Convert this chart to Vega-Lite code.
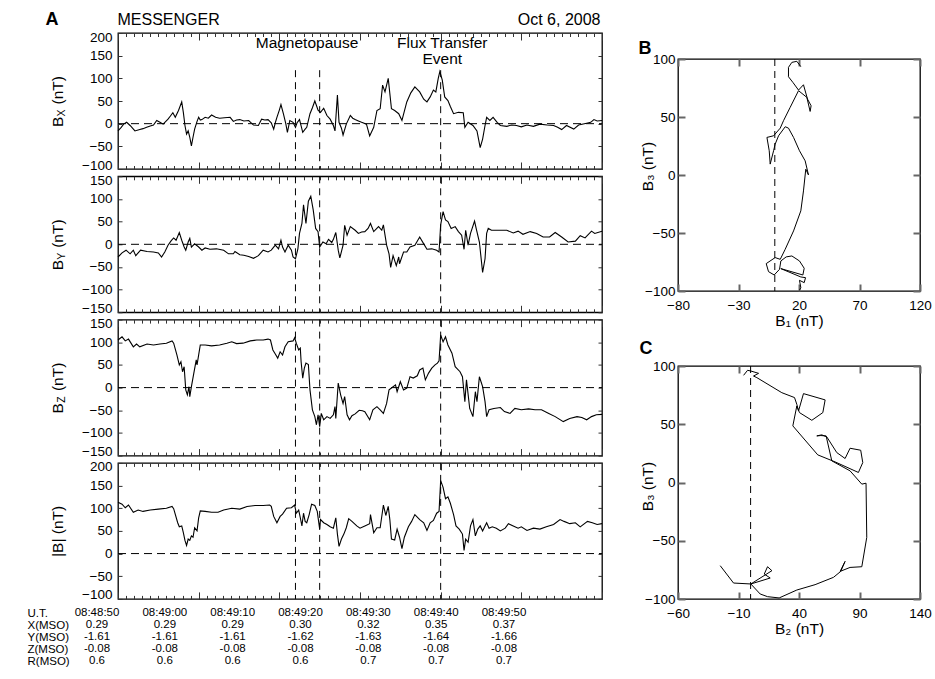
{
"$schema": "https://vega.github.io/schema/vega-lite/v6.json",
"background": "white",
"padding": {"left": 27, "top": 9, "right": 0, "bottom": 0},
"spacing": 32,
"config": {
  "font": "Liberation Sans",
  "view": {"stroke": "black", "strokeWidth": 1.3},
  "axis": {"grid": false, "domain": false, "labelFont": "Liberation Sans", "labelFontSize": 13.5, "labelColor": "black", "titleFont": "Liberation Sans", "titleFontSize": 15.5, "titleFontWeight": "normal", "titleColor": "black", "tickColor": "#333", "tickWidth": 1, "labelFlush": false, "labelOverlap": false},
  "title": {"font": "Liberation Sans", "color": "black"},
  "text": {"font": "Liberation Sans"}
},
"datasets": {
  "bx": [{"t":0,"v":-16},{"t":0.4,"v":-8},{"t":0.7,"v":-1},{"t":1.07,"v":3},{"t":1.5,"v":-4},{"t":2.1,"v":-16},{"t":2.7,"v":-13},{"t":3.1,"v":-11},{"t":3.55,"v":-8},{"t":4,"v":-5},{"t":4.4,"v":-3},{"t":4.8,"v":7},{"t":5.2,"v":3},{"t":5.6,"v":-1},{"t":6.2,"v":10},{"t":6.5,"v":17},{"t":6.8,"v":24},{"t":7.1,"v":14},{"t":7.5,"v":29},{"t":7.9,"v":48},{"t":8.1,"v":25},{"t":8.3,"v":-4},{"t":8.5,"v":-23},{"t":8.7,"v":-16},{"t":8.9,"v":-30},{"t":9.1,"v":-49},{"t":9.3,"v":-30},{"t":9.5,"v":-12},{"t":9.8,"v":5},{"t":10,"v":14},{"t":10.2,"v":8},{"t":10.4,"v":9},{"t":10.8,"v":14},{"t":11.2,"v":12},{"t":11.6,"v":19},{"t":12.1,"v":14},{"t":12.6,"v":12},{"t":13.2,"v":13},{"t":13.9,"v":14},{"t":14.3,"v":5},{"t":14.7,"v":8},{"t":15.1,"v":9},{"t":15.6,"v":6},{"t":16.2,"v":7},{"t":16.8,"v":-3},{"t":17.4,"v":-4},{"t":17.8,"v":10},{"t":18.2,"v":8},{"t":18.6,"v":9},{"t":19,"v":2},{"t":19.3,"v":-12},{"t":19.5,"v":2},{"t":19.7,"v":14},{"t":20,"v":30},{"t":20.2,"v":42},{"t":20.5,"v":22},{"t":20.8,"v":0},{"t":21,"v":-19},{"t":21.3,"v":7},{"t":21.7,"v":3},{"t":22,"v":-8},{"t":22.2,"v":2},{"t":22.5,"v":9},{"t":22.7,"v":-5},{"t":22.9,"v":-19},{"t":23.2,"v":-12},{"t":23.4,"v":-8},{"t":23.8,"v":22},{"t":24.1,"v":35},{"t":24.4,"v":50},{"t":24.6,"v":40},{"t":24.8,"v":30},{"t":25.1,"v":25},{"t":25.5,"v":34},{"t":25.9,"v":18},{"t":26.3,"v":10},{"t":26.7,"v":-4},{"t":26.9,"v":-16},{"t":27.2,"v":63},{"t":27.4,"v":3},{"t":27.7,"v":-10},{"t":27.9,"v":-25},{"t":28.3,"v":-1},{"t":28.8,"v":18},{"t":29.1,"v":12},{"t":29.4,"v":9},{"t":29.8,"v":6},{"t":30.2,"v":3},{"t":30.8,"v":-1},{"t":31.2,"v":-27},{"t":31.7,"v":-8},{"t":32.1,"v":29},{"t":32.5,"v":33},{"t":32.8,"v":85},{"t":33.1,"v":70},{"t":33.5,"v":100},{"t":33.9,"v":33},{"t":34.3,"v":29},{"t":34.8,"v":22},{"t":35.2,"v":7},{"t":35.8,"v":48},{"t":36.3,"v":68},{"t":36.8,"v":81},{"t":37.4,"v":70},{"t":37.9,"v":54},{"t":38.3,"v":48},{"t":38.7,"v":59},{"t":39.1,"v":74},{"t":39.4,"v":70},{"t":39.7,"v":100},{"t":39.9,"v":115},{"t":40.2,"v":96},{"t":40.5,"v":59},{"t":40.9,"v":51},{"t":41.2,"v":38},{"t":41.6,"v":22},{"t":42.2,"v":25},{"t":42.8,"v":24},{"t":43,"v":-8},{"t":43.4,"v":3},{"t":44,"v":-4},{"t":44.5,"v":-16},{"t":44.9,"v":-53},{"t":45.2,"v":-34},{"t":45.5,"v":-4},{"t":45.7,"v":14},{"t":46.1,"v":7},{"t":46.5,"v":14},{"t":47,"v":3},{"t":47.4,"v":-4},{"t":48.2,"v":-6},{"t":48.8,"v":-3},{"t":49.4,"v":-4},{"t":50,"v":-7},{"t":50.7,"v":-3},{"t":51.5,"v":-6},{"t":52.3,"v":-1},{"t":53.2,"v":-3},{"t":54,"v":-4},{"t":54.5,"v":-8},{"t":55,"v":-13},{"t":55.6,"v":-4},{"t":56.5,"v":-12},{"t":57.1,"v":-3},{"t":58.1,"v":1},{"t":58.6,"v":3},{"t":59,"v":9},{"t":59.4,"v":6},{"t":60,"v":7}],
  "by": [{"t":0,"v":-28},{"t":0.5,"v":-19},{"t":1,"v":-13},{"t":1.5,"v":-21},{"t":1.9,"v":-13},{"t":2.2,"v":-25},{"t":2.8,"v":-13},{"t":3.6,"v":-16},{"t":4.4,"v":-17},{"t":5,"v":-19},{"t":5.4,"v":-28},{"t":5.8,"v":-17},{"t":6.2,"v":-2},{"t":6.6,"v":8},{"t":6.9,"v":14},{"t":7.2,"v":9},{"t":7.6,"v":26},{"t":7.9,"v":9},{"t":8.2,"v":-6},{"t":8.4,"v":-13},{"t":8.7,"v":5},{"t":8.9,"v":13},{"t":9.1,"v":-6},{"t":9.5,"v":1},{"t":10,"v":-6},{"t":10.4,"v":-13},{"t":10.8,"v":-8},{"t":11.4,"v":-11},{"t":12.2,"v":-10},{"t":13.1,"v":-13},{"t":13.7,"v":-21},{"t":14.3,"v":-21},{"t":14.5,"v":-16},{"t":15.1,"v":-23},{"t":15.6,"v":-24},{"t":16.2,"v":-27},{"t":16.8,"v":-31},{"t":17.4,"v":-25},{"t":18,"v":-13},{"t":18.6,"v":-17},{"t":19,"v":-13},{"t":19.5,"v":-2},{"t":19.9,"v":-10},{"t":20.2,"v":9},{"t":20.4,"v":-6},{"t":20.7,"v":-17},{"t":21.1,"v":-2},{"t":21.5,"v":-13},{"t":21.7,"v":-28},{"t":22,"v":-32},{"t":22.3,"v":-10},{"t":22.5,"v":24},{"t":22.8,"v":46},{"t":23,"v":87},{"t":23.3,"v":46},{"t":23.6,"v":95},{"t":23.9,"v":106},{"t":24.2,"v":76},{"t":24.5,"v":35},{"t":24.8,"v":28},{"t":25,"v":-6},{"t":25.4,"v":5},{"t":25.8,"v":1},{"t":26.1,"v":11},{"t":26.5,"v":4},{"t":26.7,"v":11},{"t":27,"v":26},{"t":27.3,"v":-13},{"t":27.5,"v":-30},{"t":27.9,"v":-2},{"t":28.1,"v":42},{"t":28.4,"v":20},{"t":28.8,"v":39},{"t":29.4,"v":31},{"t":29.8,"v":24},{"t":30.2,"v":27},{"t":30.6,"v":28},{"t":31,"v":35},{"t":31.3,"v":46},{"t":31.7,"v":28},{"t":32.3,"v":39},{"t":32.7,"v":31},{"t":32.9,"v":43},{"t":33.3,"v":-2},{"t":33.6,"v":-21},{"t":33.8,"v":-51},{"t":34.1,"v":-25},{"t":34.5,"v":-47},{"t":34.8,"v":-28},{"t":34.9,"v":-43},{"t":35.4,"v":-17},{"t":35.8,"v":-17},{"t":36.2,"v":-6},{"t":36.8,"v":-2},{"t":37.4,"v":16},{"t":37.9,"v":1},{"t":38.3,"v":-11},{"t":38.9,"v":-10},{"t":39.5,"v":-13},{"t":39.8,"v":-17},{"t":40,"v":43},{"t":40.3,"v":72},{"t":40.6,"v":54},{"t":40.9,"v":50},{"t":41.3,"v":35},{"t":41.8,"v":39},{"t":42.2,"v":28},{"t":42.6,"v":20},{"t":42.9,"v":-11},{"t":43.1,"v":31},{"t":43.4,"v":-2},{"t":43.7,"v":24},{"t":44.2,"v":51},{"t":44.4,"v":35},{"t":44.8,"v":5},{"t":45.2,"v":-62},{"t":45.5,"v":-32},{"t":45.7,"v":24},{"t":45.9,"v":35},{"t":46.3,"v":31},{"t":47,"v":31},{"t":47.6,"v":31},{"t":48.2,"v":31},{"t":49,"v":25},{"t":49.6,"v":29},{"t":50.2,"v":22},{"t":51.1,"v":28},{"t":51.9,"v":24},{"t":52.7,"v":16},{"t":53.5,"v":16},{"t":54.2,"v":26},{"t":55,"v":16},{"t":55.8,"v":5},{"t":56.7,"v":7},{"t":57.3,"v":19},{"t":57.9,"v":14},{"t":58.7,"v":29},{"t":59.1,"v":24},{"t":60,"v":29}],
  "bz": [{"t":0,"v":105},{"t":0.5,"v":112},{"t":0.9,"v":103},{"t":1.3,"v":107},{"t":1.9,"v":90},{"t":2.3,"v":96},{"t":2.7,"v":90},{"t":3.6,"v":96},{"t":4.4,"v":94},{"t":5.2,"v":96},{"t":6,"v":98},{"t":6.7,"v":103},{"t":6.9,"v":98},{"t":7.3,"v":72},{"t":7.6,"v":50},{"t":7.8,"v":57},{"t":8,"v":35},{"t":8.2,"v":46},{"t":8.4,"v":-5},{"t":8.6,"v":-16},{"t":8.8,"v":2},{"t":8.9,"v":-20},{"t":9.1,"v":2},{"t":9.4,"v":32},{"t":9.7,"v":61},{"t":9.8,"v":50},{"t":10,"v":72},{"t":10.2,"v":94},{"t":10.8,"v":94},{"t":11.6,"v":92},{"t":12.6,"v":94},{"t":13.5,"v":98},{"t":14.1,"v":101},{"t":14.7,"v":97},{"t":15.5,"v":98},{"t":16.4,"v":103},{"t":17.2,"v":105},{"t":18,"v":105},{"t":18.6,"v":107},{"t":18.9,"v":105},{"t":19.2,"v":83},{"t":19.5,"v":74},{"t":19.8,"v":65},{"t":20.1,"v":79},{"t":20.4,"v":72},{"t":20.7,"v":90},{"t":21.1,"v":101},{"t":21.7,"v":103},{"t":21.9,"v":110},{"t":22.1,"v":98},{"t":22.4,"v":83},{"t":22.6,"v":87},{"t":22.7,"v":57},{"t":22.9,"v":21},{"t":23.1,"v":43},{"t":23.3,"v":54},{"t":23.6,"v":51},{"t":23.8,"v":-5},{"t":24.1,"v":-49},{"t":24.4,"v":-64},{"t":24.6,"v":-82},{"t":24.8,"v":-60},{"t":25,"v":-86},{"t":25.2,"v":-57},{"t":25.5,"v":-71},{"t":25.9,"v":-64},{"t":26.3,"v":-68},{"t":26.7,"v":-60},{"t":26.9,"v":-42},{"t":27,"v":-68},{"t":27.3,"v":10},{"t":27.6,"v":-16},{"t":27.9,"v":-35},{"t":28.1,"v":-20},{"t":28.4,"v":-60},{"t":28.7,"v":-71},{"t":29,"v":-62},{"t":29.4,"v":-58},{"t":29.9,"v":-50},{"t":30.3,"v":-51},{"t":30.6,"v":-53},{"t":31.2,"v":-71},{"t":31.6,"v":-49},{"t":32.1,"v":-42},{"t":32.5,"v":-49},{"t":32.9,"v":-57},{"t":33.3,"v":-35},{"t":33.6,"v":-5},{"t":33.9,"v":-1},{"t":34.4,"v":6},{"t":34.6,"v":-9},{"t":35,"v":13},{"t":35.4,"v":-5},{"t":35.8,"v":-1},{"t":36.2,"v":24},{"t":36.6,"v":21},{"t":37.1,"v":26},{"t":37.4,"v":39},{"t":37.8,"v":43},{"t":38.1,"v":17},{"t":38.5,"v":32},{"t":38.9,"v":43},{"t":39.3,"v":50},{"t":39.6,"v":54},{"t":39.8,"v":59},{"t":40,"v":116},{"t":40.3,"v":101},{"t":40.6,"v":112},{"t":40.9,"v":94},{"t":41.4,"v":76},{"t":41.8,"v":46},{"t":42.4,"v":35},{"t":42.7,"v":24},{"t":43,"v":-31},{"t":43.2,"v":17},{"t":43.6,"v":-46},{"t":44,"v":-64},{"t":44.3,"v":-9},{"t":44.5,"v":-31},{"t":44.8,"v":24},{"t":45.2,"v":2},{"t":45.5,"v":-31},{"t":45.7,"v":-64},{"t":46,"v":-49},{"t":46.6,"v":-46},{"t":47.4,"v":-44},{"t":47.9,"v":-53},{"t":48.6,"v":-57},{"t":49.2,"v":-46},{"t":50,"v":-49},{"t":50.9,"v":-47},{"t":51.7,"v":-49},{"t":52.5,"v":-49},{"t":53.4,"v":-57},{"t":54.2,"v":-64},{"t":55.2,"v":-75},{"t":56,"v":-68},{"t":56.9,"v":-64},{"t":57.5,"v":-66},{"t":58.1,"v":-71},{"t":58.7,"v":-64},{"t":59.3,"v":-60},{"t":60,"v":-59}],
  "bt": [{"t":0,"v":113},{"t":0.5,"v":109},{"t":0.9,"v":101},{"t":1.3,"v":107},{"t":1.9,"v":91},{"t":2.5,"v":96},{"t":3.1,"v":93},{"t":4,"v":96},{"t":5,"v":98},{"t":6,"v":100},{"t":6.7,"v":104},{"t":6.9,"v":99},{"t":7.4,"v":68},{"t":7.6,"v":59},{"t":7.9,"v":61},{"t":8.1,"v":46},{"t":8.3,"v":29},{"t":8.5,"v":18},{"t":8.7,"v":32},{"t":8.9,"v":29},{"t":9.1,"v":39},{"t":9.3,"v":36},{"t":9.5,"v":57},{"t":9.8,"v":50},{"t":10,"v":79},{"t":10.2,"v":94},{"t":10.8,"v":93},{"t":11.6,"v":91},{"t":12.4,"v":91},{"t":13.1,"v":96},{"t":14.1,"v":100},{"t":15.1,"v":98},{"t":16,"v":104},{"t":17,"v":106},{"t":18,"v":106},{"t":18.8,"v":107},{"t":19,"v":104},{"t":19.3,"v":82},{"t":19.7,"v":68},{"t":20.1,"v":82},{"t":20.4,"v":87},{"t":20.9,"v":100},{"t":21.5,"v":101},{"t":21.9,"v":107},{"t":22.1,"v":89},{"t":22.4,"v":96},{"t":22.6,"v":79},{"t":22.8,"v":61},{"t":23,"v":89},{"t":23.2,"v":71},{"t":23.4,"v":68},{"t":23.7,"v":86},{"t":24,"v":109},{"t":24.4,"v":106},{"t":24.7,"v":93},{"t":25,"v":54},{"t":25.1,"v":75},{"t":25.5,"v":68},{"t":25.9,"v":64},{"t":26.3,"v":59},{"t":26.7,"v":56},{"t":27,"v":79},{"t":27.2,"v":43},{"t":27.4,"v":16},{"t":27.7,"v":32},{"t":28,"v":43},{"t":28.3,"v":57},{"t":28.6,"v":77},{"t":29,"v":71},{"t":29.6,"v":61},{"t":30,"v":56},{"t":30.6,"v":61},{"t":31.2,"v":66},{"t":31.3,"v":86},{"t":31.7,"v":46},{"t":32.1,"v":57},{"t":32.5,"v":57},{"t":32.9,"v":107},{"t":33.2,"v":84},{"t":33.5,"v":104},{"t":33.7,"v":75},{"t":33.9,"v":32},{"t":34.3,"v":30},{"t":34.6,"v":54},{"t":34.9,"v":36},{"t":35.2,"v":11},{"t":35.5,"v":36},{"t":36,"v":59},{"t":36.4,"v":71},{"t":36.8,"v":86},{"t":37.4,"v":75},{"t":37.9,"v":68},{"t":38.3,"v":51},{"t":38.7,"v":68},{"t":39.1,"v":73},{"t":39.5,"v":89},{"t":39.8,"v":93},{"t":40,"v":161},{"t":40.3,"v":146},{"t":40.6,"v":121},{"t":40.9,"v":125},{"t":41.2,"v":111},{"t":41.6,"v":86},{"t":41.9,"v":61},{"t":42.3,"v":54},{"t":42.7,"v":43},{"t":42.9,"v":7},{"t":43.1,"v":32},{"t":43.4,"v":25},{"t":43.7,"v":61},{"t":44,"v":75},{"t":44.3,"v":39},{"t":44.6,"v":54},{"t":44.9,"v":61},{"t":45.2,"v":50},{"t":45.5,"v":61},{"t":45.7,"v":68},{"t":46,"v":56},{"t":46.4,"v":59},{"t":46.9,"v":56},{"t":47.4,"v":50},{"t":48,"v":56},{"t":48.4,"v":66},{"t":49,"v":61},{"t":49.6,"v":56},{"t":50,"v":59},{"t":50.7,"v":51},{"t":51.5,"v":56},{"t":52.3,"v":54},{"t":53.1,"v":59},{"t":54,"v":64},{"t":54.8,"v":75},{"t":55.3,"v":71},{"t":56,"v":66},{"t":56.7,"v":68},{"t":57.3,"v":59},{"t":58.2,"v":71},{"t":58.8,"v":68},{"t":59.4,"v":64},{"t":60,"v":66}],
  "mp": [{"t":22},{"t":25}],
  "fte": [{"t":40}],
  "annot": [{"t":23.43,"label":"Magnetopause"},{"t":40.2,"label":"Flux Transfer\nEvent"}],
  "table": [
    {"ut":"08:48:50","row":"U.T.","val":"08:48:50"},{"ut":"08:49:00","row":"U.T.","val":"08:49:00"},{"ut":"08:49:10","row":"U.T.","val":"08:49:10"},{"ut":"08:49:20","row":"U.T.","val":"08:49:20"},{"ut":"08:49:30","row":"U.T.","val":"08:49:30"},{"ut":"08:49:40","row":"U.T.","val":"08:49:40"},{"ut":"08:49:50","row":"U.T.","val":"08:49:50"},
    {"ut":"08:48:50","row":"X(MSO)","val":"0.29"},{"ut":"08:49:00","row":"X(MSO)","val":"0.29"},{"ut":"08:49:10","row":"X(MSO)","val":"0.29"},{"ut":"08:49:20","row":"X(MSO)","val":"0.30"},{"ut":"08:49:30","row":"X(MSO)","val":"0.32"},{"ut":"08:49:40","row":"X(MSO)","val":"0.35"},{"ut":"08:49:50","row":"X(MSO)","val":"0.37"},
    {"ut":"08:48:50","row":"Y(MSO)","val":"-1.61"},{"ut":"08:49:00","row":"Y(MSO)","val":"-1.61"},{"ut":"08:49:10","row":"Y(MSO)","val":"-1.61"},{"ut":"08:49:20","row":"Y(MSO)","val":"-1.62"},{"ut":"08:49:30","row":"Y(MSO)","val":"-1.63"},{"ut":"08:49:40","row":"Y(MSO)","val":"-1.64"},{"ut":"08:49:50","row":"Y(MSO)","val":"-1.66"},
    {"ut":"08:48:50","row":"Z(MSO)","val":"-0.08"},{"ut":"08:49:00","row":"Z(MSO)","val":"-0.08"},{"ut":"08:49:10","row":"Z(MSO)","val":"-0.08"},{"ut":"08:49:20","row":"Z(MSO)","val":"-0.08"},{"ut":"08:49:30","row":"Z(MSO)","val":"-0.08"},{"ut":"08:49:40","row":"Z(MSO)","val":"-0.08"},{"ut":"08:49:50","row":"Z(MSO)","val":"-0.08"},
    {"ut":"08:48:50","row":"R(MSO)","val":"0.6"},{"ut":"08:49:00","row":"R(MSO)","val":"0.6"},{"ut":"08:49:10","row":"R(MSO)","val":"0.6"},{"ut":"08:49:20","row":"R(MSO)","val":"0.6"},{"ut":"08:49:30","row":"R(MSO)","val":"0.7"},{"ut":"08:49:40","row":"R(MSO)","val":"0.7"},{"ut":"08:49:50","row":"R(MSO)","val":"0.7"}
  ],
  "hodoB": [{"i":1,"b1":21.5,"b3":93.4},{"i":2,"b1":18.2,"b3":98},{"i":3,"b1":14.1,"b3":97.1},{"i":4,"b1":11.3,"b3":92.8},{"i":5,"b1":11.3,"b3":84.7},{"i":6,"b1":14.9,"b3":79.9},{"i":7,"b1":19.6,"b3":73.2},{"i":8,"b1":23.7,"b3":77.8},{"i":9,"b1":27,"b3":65.5},{"i":10,"b1":30,"b3":59.7},{"i":11,"b1":29.2,"b3":54.8},{"i":12,"b1":26.5,"b3":66.9},{"i":13,"b1":19.6,"b3":72.7},{"i":14,"b1":12.7,"b3":58.3},{"i":15,"b1":7.2,"b3":46.8},{"i":16,"b1":4.5,"b3":40.4},{"i":17,"b1":-1,"b3":33.8},{"i":18,"b1":-6.5,"b3":32.4},{"i":19,"b1":-4.6,"b3":20.9},{"i":20,"b1":-3.8,"b3":9.4},{"i":21,"b1":-1,"b3":20.9},{"i":22,"b1":0.3,"b3":26.6},{"i":23,"b1":3.1,"b3":33.8},{"i":24,"b1":8.6,"b3":41.6},{"i":25,"b1":11.3,"b3":40.4},{"i":26,"b1":15.5,"b3":32.4},{"i":27,"b1":20.4,"b3":20.9},{"i":28,"b1":25.1,"b3":12.2},{"i":29,"b1":27.8,"b3":0.1},{"i":30,"b1":25.6,"b3":5},{"i":31,"b1":23.7,"b3":-13.7},{"i":32,"b1":21.5,"b3":-30.9},{"i":33,"b1":15.5,"b3":-48.2},{"i":34,"b1":8.6,"b3":-64},{"i":35,"b1":4.5,"b3":-72.7},{"i":36,"b1":0.3,"b3":-71.2},{"i":37,"b1":-7.1,"b3":-76.4},{"i":38,"b1":-5.2,"b3":-83.3},{"i":39,"b1":-0.5,"b3":-86.2},{"i":40,"b1":3.9,"b3":-81.3},{"i":41,"b1":5,"b3":-74.1},{"i":42,"b1":9.4,"b3":-70.6},{"i":43,"b1":14.1,"b3":-69.8},{"i":44,"b1":20.4,"b3":-74.1},{"i":45,"b1":24.3,"b3":-80.4},{"i":46,"b1":23.2,"b3":-86.2},{"i":47,"b1":5,"b3":-80.7},{"i":48,"b1":21.5,"b3":-87.9},{"i":49,"b1":25.4,"b3":-88.5},{"i":50,"b1":24.3,"b3":-92.8},{"i":51,"b1":20.4,"b3":-90.8},{"i":52,"b1":21.5,"b3":-97.1},{"i":53,"b1":20.4,"b3":-99.4}],
  "hodoC": [{"i":1,"b2":-5.8,"b3":92},{"i":2,"b2":-2.5,"b3":96.3},{"i":3,"b2":0.2,"b3":95.7},{"i":4,"b2":6.6,"b3":93.7},{"i":5,"b2":2.4,"b3":91.4},{"i":6,"b2":5.2,"b3":90},{"i":7,"b2":25.8,"b3":77.1},{"i":8,"b2":36.3,"b3":72.9},{"i":9,"b2":38.2,"b3":67.1},{"i":10,"b2":39.6,"b3":61.4},{"i":11,"b2":43.7,"b3":76.3},{"i":12,"b2":61.6,"b3":70.9},{"i":13,"b2":59.7,"b3":60},{"i":14,"b2":50.6,"b3":53.4},{"i":15,"b2":40.4,"b3":60},{"i":16,"b2":38.2,"b3":65.7},{"i":17,"b2":34.9,"b3":48.6},{"i":18,"b2":55.5,"b3":23.7},{"i":19,"b2":69.8,"b3":17.7},{"i":20,"b2":89.1,"b3":8.6},{"i":21,"b2":92.7,"b3":17.1},{"i":22,"b2":91,"b3":27.7},{"i":23,"b2":82.2,"b3":29.4},{"i":24,"b2":78.1,"b3":20.6},{"i":25,"b2":71.2,"b3":25.7},{"i":26,"b2":63,"b3":39.1},{"i":27,"b2":58.8,"b3":40.9},{"i":28,"b2":54.7,"b3":40},{"i":29,"b2":58,"b3":40.3},{"i":30,"b2":62.4,"b3":40},{"i":31,"b2":67.1,"b3":18.6},{"i":32,"b2":82.2,"b3":10},{"i":33,"b2":91.9,"b3":-1.4},{"i":34,"b2":95.4,"b3":-0.6},{"i":35,"b2":96,"b3":-47.1},{"i":36,"b2":91.9,"b3":-72.3},{"i":37,"b2":82.2,"b3":-72.9},{"i":38,"b2":74,"b3":-76.3},{"i":39,"b2":78.1,"b3":-67.7},{"i":40,"b2":74.5,"b3":-76.3},{"i":41,"b2":68.5,"b3":-81.4},{"i":42,"b2":53.3,"b3":-87.7},{"i":43,"b2":38.2,"b3":-92.3},{"i":44,"b2":23.6,"b3":-99.1},{"i":45,"b2":14,"b3":-98},{"i":46,"b2":7.9,"b3":-95.7},{"i":47,"b2":0.2,"b3":-87.1},{"i":48,"b2":16.2,"b3":-82},{"i":49,"b2":11.3,"b3":-78.6},{"i":50,"b2":14,"b3":-72.3},{"i":51,"b2":17.6,"b3":-75.7},{"i":52,"b2":0.2,"b3":-87.1},{"i":53,"b2":-14.1,"b3":-86.3},{"i":54,"b2":-25.1,"b3":-71.4}]
},
"hconcat": [
 {
  "bounds": "flush",
  "spacing": 7.3,
  "vconcat": [
   {
    "width": 484, "height": 136,
    "resolve": {"axis": {"x": "independent", "y": "independent"}},
    "layer": [
     {"data": {"name": "bx"}, "mark": {"type": "line", "color": "black", "strokeWidth": 1.1},
      "encoding": {
       "x": {"field": "t", "type": "quantitative", "scale": {"domain": [0,60], "nice": false, "zero": false}, "axis": {"orient": "bottom", "tickCount": 60, "tickSize": -3.5, "labels": false, "title": null}},
       "y": {"field": "v", "type": "quantitative", "scale": {"domain": [-100,200], "nice": false, "zero": false}, "axis": {"orient": "left", "values": [-100,-50,0,50,100,150,200], "tickSize": -4, "labelPadding": 10, "labelFlush": true, "labelFlushOffset": 3, "title": "B\u2002 (nT)", "titleX": -56, "titleY": 68, "titleAngle": 270, "titleAlign": "center", "titleBaseline": "alphabetic"}}
      }},
     {"data": {"values": [{"v": 0}]}, "mark": {"type": "rule", "color": "black", "strokeDash": [8,5], "strokeWidth": 1},
      "encoding": {
       "x": {"datum": 0, "type": "quantitative", "scale": {"domain": [0,60], "nice": false, "zero": false}, "axis": {"orient": "bottom", "tickCount": 6, "tickSize": -7, "labels": false, "title": null}},
       "x2": {"datum": 60},
       "y": {"field": "v", "type": "quantitative", "scale": {"domain": [-100,200], "nice": false, "zero": false}, "axis": {"orient": "left", "ticks": false, "labels": false, "title": "X", "titleFontSize": 10.5, "titleX": -53.5, "titleY": 79.5, "titleAngle": 270, "titleAlign": "center", "titleBaseline": "alphabetic"}}
      }},
     {"data": {"name": "mp"}, "mark": {"type": "rule", "color": "black", "strokeDash": [7,5], "strokeWidth": 1},
      "encoding": {
       "x": {"field": "t", "type": "quantitative", "scale": {"domain": [0,60], "nice": false, "zero": false}, "axis": {"orient": "top", "tickCount": 60, "tickSize": -3.5, "labels": false, "title": "Oct 6, 2008", "titleX": 482, "titleY": -9, "titleAngle": 0, "titleAlign": "right", "titleBaseline": "alphabetic", "titleFontSize": 16}},
       "y": {"datum": 118, "type": "quantitative", "scale": {"domain": [-100,200], "nice": false, "zero": false}, "axis": {"orient": "right", "values": [-100,-50,0,50,100,150,200], "tickSize": -4, "labels": false, "title": "A", "titleX": -557, "titleY": -9, "titleAngle": 0, "titleAlign": "left", "titleBaseline": "alphabetic", "titleFontSize": 18, "titleFontWeight": "bold"}},
       "y2": {"datum": -100}
      }},
     {"data": {"name": "fte"}, "mark": {"type": "rule", "color": "black", "strokeDash": [7,5], "strokeWidth": 1},
      "encoding": {
       "x": {"field": "t", "type": "quantitative", "scale": {"domain": [0,60], "nice": false, "zero": false}, "axis": {"orient": "top", "tickCount": 6, "tickSize": -7, "labels": false, "title": "MESSENGER", "titleX": -1, "titleY": -9, "titleAngle": 0, "titleAlign": "left", "titleBaseline": "alphabetic", "titleFontSize": 16}},
       "y": {"datum": 118, "type": "quantitative", "scale": {"domain": [-100,200], "nice": false, "zero": false}, "axis": null},
       "y2": {"datum": -100}
      }},
     {"data": {"name": "annot"}, "mark": {"type": "text", "color": "black", "fontSize": 15.5, "baseline": "alphabetic", "align": "center", "lineBreak": "\n", "lineHeight": 15.5},
      "encoding": {
       "x": {"field": "t", "type": "quantitative", "scale": {"domain": [0,60], "nice": false, "zero": false}, "axis": null},
       "y": {"datum": 166, "type": "quantitative", "scale": {"domain": [-100,200], "nice": false, "zero": false}, "axis": null},
       "text": {"field": "label"}
      }}
    ]
   },
   {
    "width": 484, "height": 136,
    "resolve": {"axis": {"x": "independent", "y": "independent"}},
    "layer": [
     {"data": {"name": "by"}, "mark": {"type": "line", "color": "black", "strokeWidth": 1.1},
      "encoding": {
       "x": {"field": "t", "type": "quantitative", "scale": {"domain": [0,60], "nice": false, "zero": false}, "axis": {"orient": "bottom", "tickCount": 60, "tickSize": -3.5, "labels": false, "title": null}},
       "y": {"field": "v", "type": "quantitative", "scale": {"domain": [-150,150], "nice": false, "zero": false}, "axis": {"orient": "left", "values": [-150,-100,-50,0,50,100,150], "tickSize": -4, "labelPadding": 10, "labelFlush": true, "labelFlushOffset": 3, "title": "B\u2002 (nT)", "titleX": -56, "titleY": 68, "titleAngle": 270, "titleAlign": "center", "titleBaseline": "alphabetic"}}
      }},
     {"data": {"values": [{"v": 0}]}, "mark": {"type": "rule", "color": "black", "strokeDash": [8,5], "strokeWidth": 1},
      "encoding": {
       "x": {"datum": 0, "type": "quantitative", "scale": {"domain": [0,60], "nice": false, "zero": false}, "axis": {"orient": "bottom", "tickCount": 6, "tickSize": -7, "labels": false, "title": null}},
       "x2": {"datum": 60},
       "y": {"field": "v", "type": "quantitative", "scale": {"domain": [-150,150], "nice": false, "zero": false}, "axis": {"orient": "left", "ticks": false, "labels": false, "title": "Y", "titleFontSize": 10.5, "titleX": -53.5, "titleY": 79.5, "titleAngle": 270, "titleAlign": "center", "titleBaseline": "alphabetic"}}
      }},
     {"data": {"name": "mp"}, "mark": {"type": "rule", "color": "black", "strokeDash": [7,5], "strokeWidth": 1},
      "encoding": {
       "x": {"field": "t", "type": "quantitative", "scale": {"domain": [0,60], "nice": false, "zero": false}, "axis": {"orient": "top", "tickCount": 60, "tickSize": -3.5, "labels": false, "title": null}},
       "y": {"datum": 150, "type": "quantitative", "scale": {"domain": [-150,150], "nice": false, "zero": false}, "axis": {"orient": "right", "values": [-150,-100,-50,0,50,100,150], "tickSize": -4, "labels": false, "title": null}},
       "y2": {"datum": -150}
      }},
     {"data": {"name": "fte"}, "mark": {"type": "rule", "color": "black", "strokeDash": [7,5], "strokeWidth": 1},
      "encoding": {
       "x": {"field": "t", "type": "quantitative", "scale": {"domain": [0,60], "nice": false, "zero": false}, "axis": {"orient": "top", "tickCount": 6, "tickSize": -7, "labels": false, "title": null}},
       "y": {"datum": 150, "type": "quantitative", "scale": {"domain": [-150,150], "nice": false, "zero": false}, "axis": null},
       "y2": {"datum": -150}
      }}
    ]
   },
   {
    "width": 484, "height": 136,
    "resolve": {"axis": {"x": "independent", "y": "independent"}},
    "layer": [
     {"data": {"name": "bz"}, "mark": {"type": "line", "color": "black", "strokeWidth": 1.1},
      "encoding": {
       "x": {"field": "t", "type": "quantitative", "scale": {"domain": [0,60], "nice": false, "zero": false}, "axis": {"orient": "bottom", "tickCount": 60, "tickSize": -3.5, "labels": false, "title": null}},
       "y": {"field": "v", "type": "quantitative", "scale": {"domain": [-150,150], "nice": false, "zero": false}, "axis": {"orient": "left", "values": [-150,-100,-50,0,50,100,150], "tickSize": -4, "labelPadding": 10, "labelFlush": true, "labelFlushOffset": 3, "title": "B\u2002 (nT)", "titleX": -56, "titleY": 68, "titleAngle": 270, "titleAlign": "center", "titleBaseline": "alphabetic"}}
      }},
     {"data": {"values": [{"v": 0}]}, "mark": {"type": "rule", "color": "black", "strokeDash": [8,5], "strokeWidth": 1},
      "encoding": {
       "x": {"datum": 0, "type": "quantitative", "scale": {"domain": [0,60], "nice": false, "zero": false}, "axis": {"orient": "bottom", "tickCount": 6, "tickSize": -7, "labels": false, "title": null}},
       "x2": {"datum": 60},
       "y": {"field": "v", "type": "quantitative", "scale": {"domain": [-150,150], "nice": false, "zero": false}, "axis": {"orient": "left", "ticks": false, "labels": false, "title": "Z", "titleFontSize": 10.5, "titleX": -53.5, "titleY": 79.5, "titleAngle": 270, "titleAlign": "center", "titleBaseline": "alphabetic"}}
      }},
     {"data": {"name": "mp"}, "mark": {"type": "rule", "color": "black", "strokeDash": [7,5], "strokeWidth": 1},
      "encoding": {
       "x": {"field": "t", "type": "quantitative", "scale": {"domain": [0,60], "nice": false, "zero": false}, "axis": {"orient": "top", "tickCount": 60, "tickSize": -3.5, "labels": false, "title": null}},
       "y": {"datum": 150, "type": "quantitative", "scale": {"domain": [-150,150], "nice": false, "zero": false}, "axis": {"orient": "right", "values": [-150,-100,-50,0,50,100,150], "tickSize": -4, "labels": false, "title": null}},
       "y2": {"datum": -150}
      }},
     {"data": {"name": "fte"}, "mark": {"type": "rule", "color": "black", "strokeDash": [7,5], "strokeWidth": 1},
      "encoding": {
       "x": {"field": "t", "type": "quantitative", "scale": {"domain": [0,60], "nice": false, "zero": false}, "axis": {"orient": "top", "tickCount": 6, "tickSize": -7, "labels": false, "title": null}},
       "y": {"datum": 150, "type": "quantitative", "scale": {"domain": [-150,150], "nice": false, "zero": false}, "axis": null},
       "y2": {"datum": -150}
      }}
    ]
   },
   {
    "width": 484, "height": 136,
    "resolve": {"axis": {"x": "independent", "y": "independent"}},
    "layer": [
     {"data": {"name": "bt"}, "mark": {"type": "line", "color": "black", "strokeWidth": 1.1},
      "encoding": {
       "x": {"field": "t", "type": "quantitative", "scale": {"domain": [0,60], "nice": false, "zero": false}, "axis": {"orient": "bottom", "tickCount": 60, "tickSize": -3.5, "labels": false, "title": null}},
       "y": {"field": "v", "type": "quantitative", "scale": {"domain": [-100,200], "nice": false, "zero": false}, "axis": {"orient": "left", "values": [-100,-50,0,50,100,150,200], "tickSize": -4, "labelPadding": 10, "labelFlush": true, "labelFlushOffset": 3, "title": "|B| (nT)", "titleX": -56, "titleY": 68, "titleAngle": 270, "titleAlign": "center", "titleBaseline": "alphabetic"}}
      }},
     {"data": {"values": [{"v": 0}]}, "mark": {"type": "rule", "color": "black", "strokeDash": [8,5], "strokeWidth": 1},
      "encoding": {
       "x": {"datum": 0, "type": "quantitative", "scale": {"domain": [0,60], "nice": false, "zero": false}, "axis": {"orient": "bottom", "tickCount": 6, "tickSize": -7, "labels": false, "title": null}},
       "x2": {"datum": 60},
       "y": {"field": "v", "type": "quantitative", "scale": {"domain": [-100,200], "nice": false, "zero": false}, "axis": null}
      }},
     {"data": {"name": "mp"}, "mark": {"type": "rule", "color": "black", "strokeDash": [7,5], "strokeWidth": 1},
      "encoding": {
       "x": {"field": "t", "type": "quantitative", "scale": {"domain": [0,60], "nice": false, "zero": false}, "axis": {"orient": "top", "tickCount": 60, "tickSize": -3.5, "labels": false, "title": null}},
       "y": {"datum": 200, "type": "quantitative", "scale": {"domain": [-100,200], "nice": false, "zero": false}, "axis": {"orient": "right", "values": [-100,-50,0,50,100,150,200], "tickSize": -4, "labels": false, "title": null}},
       "y2": {"datum": -100}
      }},
     {"data": {"name": "fte"}, "mark": {"type": "rule", "color": "black", "strokeDash": [7,5], "strokeWidth": 1},
      "encoding": {
       "x": {"field": "t", "type": "quantitative", "scale": {"domain": [0,60], "nice": false, "zero": false}, "axis": {"orient": "top", "tickCount": 6, "tickSize": -7, "labels": false, "title": null}},
       "y": {"datum": 200, "type": "quantitative", "scale": {"domain": [-100,200], "nice": false, "zero": false}, "axis": null},
       "y2": {"datum": -100}
      }}
    ]
   },
   {
    "width": 484, "height": 62,
    "view": {"stroke": null},
    "data": {"name": "table"},
    "mark": {"type": "text", "color": "black", "fontSize": 11.5, "align": "center", "baseline": "middle"},
    "encoding": {
     "x": {"field": "ut", "type": "nominal", "scale": {"type": "point", "domain": ["08:48:50","08:49:00","08:49:10","08:49:20","08:49:30","08:49:40","08:49:50"], "range": [-21, 386], "padding": 0}, "axis": null},
     "y": {"field": "row", "type": "nominal", "scale": {"type": "point", "domain": ["U.T.","X(MSO)","Y(MSO)","Z(MSO)","R(MSO)"], "padding": 0.6}, "axis": {"orient": "left", "ticks": false, "domain": false, "labelAlign": "left", "labelPadding": 91, "labelFontSize": 11.5, "title": null}},
     "text": {"field": "val"}
    }
   }
  ]
 },
 {
  "bounds": "flush",
  "spacing": 0,
  "vconcat": [
   {"width": 242, "height": 26, "view": {"stroke": null}, "data": {"values": []}, "mark": "point"},
   {
    "width": 242, "height": 232,
    "resolve": {"axis": {"x": "independent", "y": "independent"}},
    "layer": [
     {"data": {"name": "hodoB"}, "mark": {"type": "line", "color": "black", "strokeWidth": 1},
      "encoding": {
       "x": {"field": "b1", "type": "quantitative", "scale": {"domain": [-80,120], "nice": false, "zero": false}, "axis": {"orient": "bottom", "values": [-80,-30,20,70,120], "tickSize": -7, "tickWidth": 2, "tickColor": "#666", "labelPadding": 14, "title": "B\u2081 (nT)", "titlePadding": 2}},
       "y": {"field": "b3", "type": "quantitative", "scale": {"domain": [-100,100], "nice": false, "zero": false}, "axis": {"orient": "left", "values": [-100,-50,0,50,100], "tickSize": -7, "tickWidth": 2, "tickColor": "#666", "labelPadding": 10, "title": "B\u2083 (nT)", "titleX": -26, "titleY": 107, "titleAngle": 270, "titleAlign": "center", "titleBaseline": "alphabetic"}},
       "order": {"field": "i", "type": "quantitative"}
      }},
     {"data": {"values": [{"b1": 0}]}, "mark": {"type": "rule", "color": "black", "strokeDash": [7,5], "strokeWidth": 1},
      "encoding": {
       "x": {"field": "b1", "type": "quantitative", "scale": {"domain": [-80,120], "nice": false, "zero": false}, "axis": {"orient": "top", "values": [-80,-30,20,70,120], "tickSize": -7, "tickWidth": 2, "tickColor": "#666", "labels": false, "title": null}},
       "y": {"datum": 100, "type": "quantitative", "scale": {"domain": [-100,100], "nice": false, "zero": false}, "axis": {"orient": "right", "values": [-100,-50,0,50,100], "tickSize": -7, "tickWidth": 2, "tickColor": "#666", "labels": false, "title": "B", "titleX": -282, "titleY": -6, "titleAngle": 0, "titleAlign": "left", "titleBaseline": "alphabetic", "titleFontSize": 18, "titleFontWeight": "bold"}},
       "y2": {"datum": -100}
      }}
    ]
   },
   {"width": 242, "height": 75, "view": {"stroke": null}, "data": {"values": []}, "mark": "point"},
   {
    "width": 242, "height": 233,
    "resolve": {"axis": {"x": "independent", "y": "independent"}},
    "layer": [
     {"data": {"name": "hodoC"}, "mark": {"type": "line", "color": "black", "strokeWidth": 1},
      "encoding": {
       "x": {"field": "b2", "type": "quantitative", "scale": {"domain": [-60,140], "nice": false, "zero": false}, "axis": {"orient": "bottom", "values": [-60,-10,40,90,140], "tickSize": -7, "tickWidth": 2, "tickColor": "#666", "labelPadding": 14, "title": "B\u2082 (nT)", "titlePadding": 2}},
       "y": {"field": "b3", "type": "quantitative", "scale": {"domain": [-100,100], "nice": false, "zero": false}, "axis": {"orient": "left", "values": [-100,-50,0,50,100], "tickSize": -7, "tickWidth": 2, "tickColor": "#666", "labelPadding": 10, "title": "B\u2083 (nT)", "titleX": -26, "titleY": 120, "titleAngle": 270, "titleAlign": "center", "titleBaseline": "alphabetic"}},
       "order": {"field": "i", "type": "quantitative"}
      }},
     {"data": {"values": [{"b2": 0}]}, "mark": {"type": "rule", "color": "black", "strokeDash": [7,5], "strokeWidth": 1},
      "encoding": {
       "x": {"field": "b2", "type": "quantitative", "scale": {"domain": [-60,140], "nice": false, "zero": false}, "axis": {"orient": "top", "values": [-60,-10,40,90,140], "tickSize": -7, "tickWidth": 2, "tickColor": "#666", "labels": false, "title": null}},
       "y": {"datum": 100, "type": "quantitative", "scale": {"domain": [-100,100], "nice": false, "zero": false}, "axis": {"orient": "right", "values": [-100,-50,0,50,100], "tickSize": -7, "tickWidth": 2, "tickColor": "#666", "labels": false, "title": "C", "titleX": -281, "titleY": -13, "titleAngle": 0, "titleAlign": "left", "titleBaseline": "alphabetic", "titleFontSize": 18, "titleFontWeight": "bold"}},
       "y2": {"datum": -100}
      }}
    ]
   }
  ]
 }
]
}
